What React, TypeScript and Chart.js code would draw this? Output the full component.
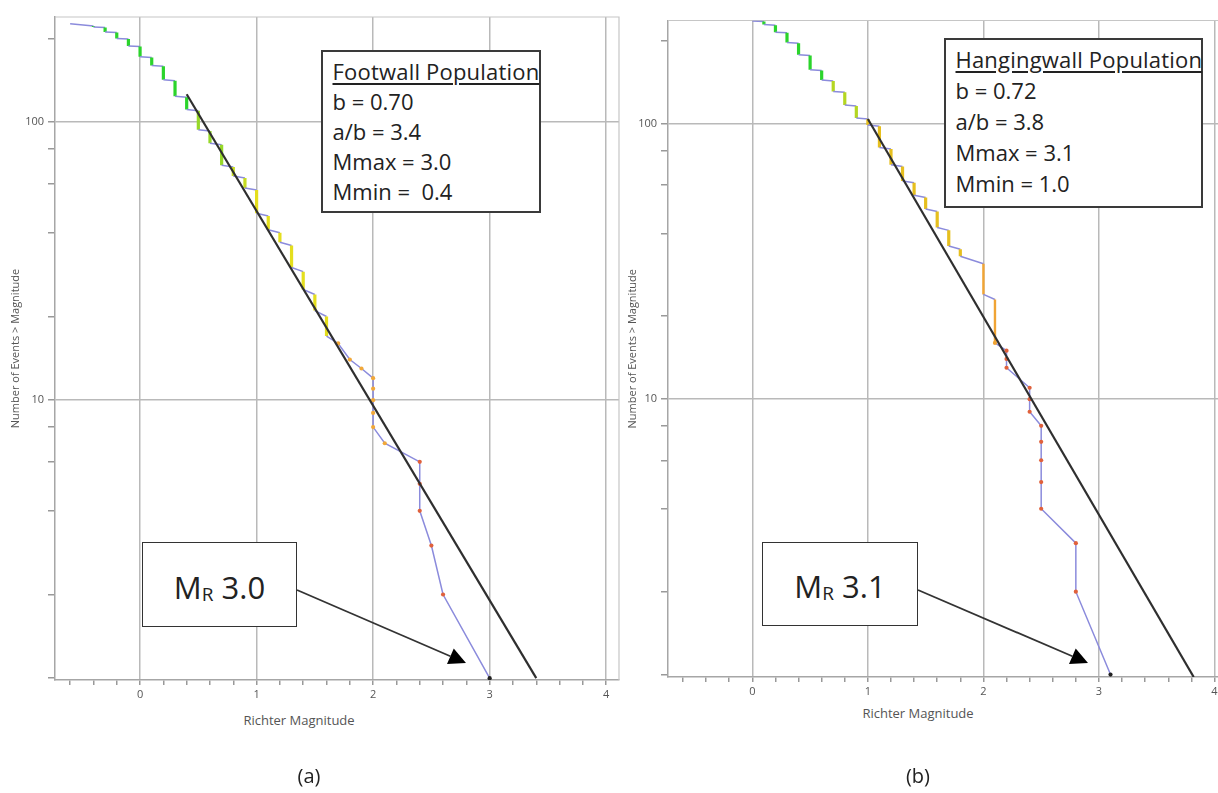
import React, { useEffect, useRef } from 'react';
import { Chart, registerables } from 'chart.js';

Chart.register(...registerables);
Chart.defaults.font.family = '"Open Sans", sans-serif';

// ---------- data: panel (a) Footwall ----------
const magA = [-0.6, -0.4, -0.4, -0.3, -0.3, -0.2, -0.2, -0.1, -0.1, 0.0, 0.0, 0.1, 0.1, 0.2, 0.2, 0.3, 0.3, 0.4, 0.4, 0.5, 0.5, 0.6, 0.6, 0.7, 0.7, 0.8, 0.8, 0.9, 0.9, 1.0, 1.0, 1.1, 1.1, 1.2, 1.2, 1.3, 1.3, 1.4, 1.4, 1.5, 1.5, 1.6, 1.6, 1.7, 1.8, 1.9, 2.0, 2.0, 2.0, 2.0, 2.0, 2.1, 2.4, 2.4, 2.4, 2.5, 2.6, 3.0];
const cntA = [226, 222, 220, 219, 211, 210, 200, 199, 188, 187, 172, 171, 160, 159, 142, 141, 124, 123, 111, 110, 94, 93, 84, 83, 70, 69, 64, 63, 58, 57, 47, 46, 41, 40, 37, 36, 30, 29, 25, 24, 21, 20, 17, 16, 14, 13, 12, 11, 10, 9, 8, 7, 6, 5, 4, 3, 2, 1];
const fitMagA = [0.4, 3.4];
const fitCntA = [126, 1];

// ---------- data: panel (b) Hangingwall ----------
const magB = [0.0, 0.1, 0.1, 0.2, 0.2, 0.3, 0.3, 0.4, 0.4, 0.5, 0.5, 0.6, 0.6, 0.7, 0.7, 0.8, 0.8, 0.9, 0.9, 1.0, 1.0, 1.1, 1.1, 1.2, 1.2, 1.3, 1.3, 1.4, 1.4, 1.5, 1.5, 1.6, 1.6, 1.7, 1.7, 1.8, 1.8, 2.0, 2.0, 2.1, 2.1, 2.2, 2.2, 2.2, 2.4, 2.4, 2.4, 2.5, 2.5, 2.5, 2.5, 2.5, 2.8, 2.8, 3.1];
const cntB = [236, 235, 229, 228, 215, 214, 197, 196, 178, 177, 157, 156, 144, 143, 131, 130, 117, 116, 105, 104, 99, 98, 82, 81, 71, 70, 62, 61, 55, 54, 49, 48, 42, 41, 36, 35, 33, 31, 24, 23, 16, 15, 14, 13, 11, 10, 9, 8, 7, 6, 5, 4, 3, 2, 1];
const fitMagB = [1.0, 3.82];
const fitCntB = [104, 0.98];

// ---------- axes ----------
const xTicks = [-0.6, -0.4, -0.2, 0, 0.2, 0.4, 0.6, 0.8, 1, 1.2, 1.4, 1.6, 1.8, 2, 2.2, 2.4, 2.6, 2.8, 3, 3.2, 3.4, 3.6, 3.8, 4];
const xLabels = [0, 1, 2, 3, 4];
const yTicks = [1, 2, 4, 6, 8, 10, 20, 40, 60, 80, 100, 200];
const yLabels = [10, 100];

// ---------- styles ----------
const PURPLE = '#8b8bdc';
const GRID = '#b9b9b9';
const AXIS = '#a6a6a6';
const breaksA = [0.45, 0.75, 0.95, 1.65, 2.25];
const colorsA = ['#2bd42b', '#96d828', '#c6dc22', '#e4de1e', '#f1a83a', '#e0613c'];
const breaksB = [0.65, 0.95, 1.95, 2.15];
const colorsB = ['#2bd42b', '#b4d622', '#e6bf1e', '#f0a434', '#e0613c'];

const pick = (breaks: number[], colors: string[]) => (m: number) => {
  for (let i = 0; i < breaks.length; i++) if (m < breaks[i]) return colors[i];
  return colors[colors.length - 1];
};

interface PanelCfg {
  mags: number[];
  counts: number[];
  fitMags: number[];
  fitCounts: number[];
  xMin: number;
  xMax: number;
  yMin: number;
  yMax: number;
  padTop: number;
  padRight: number;
  yAxisWidth: number;
  titlePad: number;
  color: (m: number) => string;
}

const frame = {
  id: 'frame',
  beforeDatasetsDraw(chart: any) {
    const { ctx, chartArea: a } = chart;
    ctx.save();
    ctx.strokeStyle = '#c6c6c6';
    ctx.lineWidth = 1.2;
    ctx.beginPath();
    ctx.moveTo(a.left, a.top);
    ctx.lineTo(a.right, a.top);
    ctx.lineTo(a.right, a.bottom);
    ctx.stroke();
    ctx.restore();
  },
};

function Panel({ cfg, left, top, width, height }: { cfg: PanelCfg; left: number; top: number; width: number; height: number }) {
  const ref = useRef<HTMLCanvasElement>(null);
  useEffect(() => {
    const canvas = ref.current!;
    const path = cfg.mags.map((m, i) => ({ x: m, y: cfg.counts[i] }));
    const fit = cfg.fitMags.map((m, i) => ({ x: m, y: cfg.fitCounts[i] }));
    const last = path.length - 1;
    const isRun = (c: any) => c.p0.parsed.x === c.p1.parsed.x && c.p0.parsed.y > 16;
    const chart = new Chart(canvas, {
      type: 'line',
      data: {
        datasets: [
          {
            label: 'Fit',
            data: fit,
            borderColor: '#2f2f2f',
            borderWidth: 2.2,
            pointRadius: 0,
            fill: false,
          },
          {
            label: 'Events',
            data: path,
            borderColor: PURPLE,
            borderWidth: 1.5,
            fill: false,
            pointRadius: (c: any) => (c.raw && c.raw.y <= 16 ? 2.1 : 0),
            pointBorderWidth: 0,
            pointBackgroundColor: (c: any) => (c.dataIndex === last ? '#222' : cfg.color(c.raw ? c.raw.x : 0)),
            segment: {
              borderColor: (c: any) => (isRun(c) ? cfg.color(c.p0.parsed.x) : PURPLE),
              borderWidth: (c: any) => (isRun(c) ? (c.p0.parsed.y < 32 && c.p0.parsed.x > 1.9 ? 2.4 : 3.2) : 1.5),
            },
          },
        ],
      },
      options: {
        responsive: false,
        maintainAspectRatio: false,
        animation: false,
        layout: { padding: { top: cfg.padTop, right: cfg.padRight, left: 0, bottom: 0 } },
        plugins: { legend: { display: false }, tooltip: { enabled: false } },
        scales: {
          x: {
            type: 'linear',
            min: cfg.xMin,
            max: cfg.xMax,
            afterBuildTicks: (s: any) => {
              s.ticks = xTicks.map((v) => ({ value: v }));
            },
            afterFit: (s: any) => {
              s.height = 25;
            },
            grid: {
              color: (c: any) => (c.tick && xLabels.includes(c.tick.value) ? GRID : 'rgba(0,0,0,0)'),
              lineWidth: 1.5,
              tickColor: '#999',
              tickLength: 5,
            },
            border: { color: AXIS, width: 1.5 },
            ticks: {
              autoSkip: false,
              maxRotation: 0,
              padding: 3,
              color: '#555',
              font: { size: 11 },
              callback: (v: any) => (xLabels.includes(v) ? String(v) : ''),
            },
          },
          y: {
            type: 'logarithmic',
            min: cfg.yMin,
            max: cfg.yMax,
            afterBuildTicks: (s: any) => {
              s.ticks = yTicks.map((v) => ({ value: v }));
            },
            afterFit: (s: any) => {
              s.width = cfg.yAxisWidth;
            },
            grid: {
              color: (c: any) => (c.tick && yLabels.includes(c.tick.value) ? GRID : 'rgba(0,0,0,0)'),
              lineWidth: 1.5,
              tickColor: '#999',
              tickLength: 7,
            },
            border: { color: AXIS, width: 1.5 },
            ticks: {
              autoSkip: false,
              padding: 4,
              color: '#555',
              font: { size: 11 },
              callback: (v: any) => (yLabels.includes(v) ? String(v) : ''),
            },
            title: {
              display: true,
              text: 'Number of Events > Magnitude',
              color: '#555',
              font: { size: 11 },
              padding: { top: cfg.titlePad, bottom: 0 },
            },
          },
        },
      } as any,
      plugins: [frame],
    } as any);
    return () => chart.destroy();
  }, []);
  return <canvas ref={ref} width={width} height={height} style={{ position: 'absolute', left, top, width, height }} />;
}

const cfgA: PanelCfg = {
  mags: magA,
  counts: cntA,
  fitMags: fitMagA,
  fitCounts: fitCntA,
  xMin: -0.73,
  xMax: 4.11,
  yMin: 0.985,
  yMax: 239,
  padTop: 17,
  padRight: 1,
  yAxisWidth: 55,
  titlePad: 9,
  color: pick(breaksA, colorsA),
};

const cfgB: PanelCfg = {
  mags: magB,
  counts: cntB,
  fitMags: fitMagB,
  fitCounts: fitCntB,
  xMin: -0.73,
  xMax: 4.065,
  yMin: 0.98,
  yMax: 237,
  padTop: 20.5,
  padRight: 6,
  yAxisWidth: 44,
  titlePad: 2.4,
  color: pick(breaksB, colorsB),
};

const textFont = '"Open Sans", sans-serif';

function CenterText({ cx, cy, size, color, children }: { cx: number; cy: number; size: number; color: string; children: React.ReactNode }) {
  return (
    <div
      style={{
        position: 'absolute',
        left: cx - 150,
        top: cy - size * 0.7,
        width: 300,
        textAlign: 'center',
        fontSize: size,
        lineHeight: `${size * 1.4}px`,
        color,
        fontFamily: textFont,
        whiteSpace: 'pre',
      }}
    >
      {children}
    </div>
  );
}

function InfoBox({ left, top, width, height, lh, padTop, title, lines }: { left: number; top: number; width: number; height: number; lh: number; padTop: number; title: string; lines: string[] }) {
  return (
    <div
      style={{
        position: 'absolute',
        left,
        top,
        width,
        height,
        boxSizing: 'border-box',
        border: '2px solid #3a3a3a',
        background: '#fff',
        paddingLeft: 9.5,
        paddingTop: padTop,
        fontFamily: textFont,
        fontSize: 22,
        lineHeight: `${lh}px`,
        color: '#222',
        whiteSpace: 'pre',
      }}
    >
      <div style={{ textDecoration: 'underline', textUnderlineOffset: 3, letterSpacing: 0.2 }}>{title}</div>
      {lines.map((l, i) => (
        <div key={i}>{l}</div>
      ))}
    </div>
  );
}

function MagBox({ left, top, width, height, value }: { left: number; top: number; width: number; height: number; value: string }) {
  return (
    <div
      style={{
        position: 'absolute',
        left,
        top,
        width,
        height,
        boxSizing: 'border-box',
        border: '1.5px solid #333',
        background: '#fff',
        display: 'flex',
        alignItems: 'center',
        justifyContent: 'center',
        fontFamily: textFont,
        fontSize: 31,
        color: '#222',
        paddingTop: 4,
      }}
    >
      <span>M</span>
      <span style={{ fontSize: 19, position: 'relative', top: 7 }}>R</span>
      <span style={{ whiteSpace: 'pre' }}> {value}</span>
    </div>
  );
}

function Arrow({ x1, y1, x2, y2 }: { x1: number; y1: number; x2: number; y2: number }) {
  const dx = x2 - x1;
  const dy = y2 - y1;
  const len = Math.hypot(dx, dy);
  const ux = dx / len;
  const uy = dy / len;
  const hl = 17;
  const hw = 8.5;
  const bx = x2 - ux * hl;
  const by = y2 - uy * hl;
  const pts = `${x2},${y2} ${bx - uy * hw},${by + ux * hw} ${bx + uy * hw},${by - ux * hw}`;
  return (
    <g>
      <line x1={x1} y1={y1} x2={bx} y2={by} stroke="#333" strokeWidth={1.8} />
      <polygon points={pts} fill="#000" />
    </g>
  );
}

export default function App() {
  return (
    <div style={{ position: 'absolute', left: 0, top: 0, width: 1218, height: 793, overflow: 'hidden', background: '#fff' }}>
      <Panel cfg={cfgA} left={0} top={0} width={623} height={705} />
      <Panel cfg={cfgB} left={624} top={0} width={604} height={702} />

      <CenterText cx={299} cy={720} size={13} color="#555">Richter Magnitude</CenterText>
      <CenterText cx={918} cy={713} size={13} color="#555">Richter Magnitude</CenterText>

      <InfoBox left={321} top={50} width={220} height={163} lh={30} padTop={4} title="Footwall Population" lines={['b = 0.70', 'a/b = 3.4', 'Mmax = 3.0', 'Mmin =  0.4']} />
      <InfoBox left={944} top={38} width={259} height={170} lh={31} padTop={3.5} title="Hangingwall Population" lines={['b = 0.72', 'a/b = 3.8', 'Mmax = 3.1', 'Mmin = 1.0']} />

      <MagBox left={142} top={542} width={155} height={85} value="3.0" />
      <MagBox left={762} top={542} width={156} height={84} value="3.1" />

      <svg width={1218} height={793} style={{ position: 'absolute', left: 0, top: 0, pointerEvents: 'none' }}>
        <Arrow x1={297} y1={590} x2={466} y2={663} />
        <Arrow x1={918} y1={590} x2={1088} y2={663} />
      </svg>

      <CenterText cx={309} cy={776} size={20} color="#222">(a)</CenterText>
      <CenterText cx={918} cy={776} size={20} color="#222">(b)</CenterText>
    </div>
  );
}
